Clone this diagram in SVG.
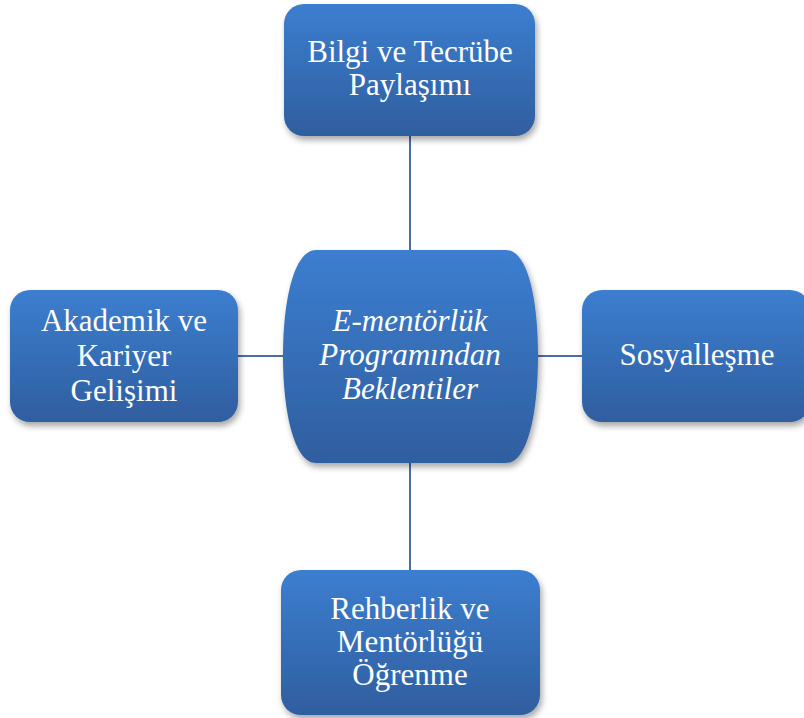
<svg xmlns="http://www.w3.org/2000/svg" width="804" height="718" viewBox="0 0 804 718">
<defs>
<linearGradient id="g" x1="0" y1="0" x2="0" y2="1">
<stop offset="0" stop-color="#3c7ed0"/>
<stop offset="1" stop-color="#2f5e9f"/>
</linearGradient>
<filter id="sh" x="-10%" y="-10%" width="125%" height="130%">
<feDropShadow dx="2" dy="4" stdDeviation="3" flood-color="#000" flood-opacity="0.35"/>
</filter>
<style>
.box{fill:url(#g);filter:url(#sh);}
.t{font-family:"Liberation Serif","Times New Roman",serif;font-size:31px;fill:#fff;text-anchor:middle;}
.i{font-style:italic;}
.c{stroke:#4a6ea6;stroke-width:2;fill:none;}
</style>
</defs>
<rect width="804" height="718" fill="#fff"/>
<g id="connectors">
<line class="c" x1="410" y1="136" x2="410" y2="251"/>
<line class="c" x1="410" y1="462" x2="410" y2="571"/>
<line class="c" x1="238" y1="356" x2="284" y2="356"/>
<line class="c" x1="537" y1="356" x2="583" y2="356"/>
</g>
<g id="top">
<rect class="box" x="284" y="4" width="251" height="132" rx="20"/>
<text class="t" x="410" y="62">Bilgi ve Tecrübe</text>
<text class="t" x="410" y="95">Paylaşımı</text>
</g>
<g id="center">
<path class="box" d="M316 250 H506 C528 250 538 300 538 356 C538 412 528 463 506 463 H316 C294 463 283 412 283 356 C283 300 294 250 316 250 Z"/>
<text class="t i" x="410" y="331">E-mentörlük</text>
<text class="t i" x="410" y="365">Programından</text>
<text class="t i" x="410" y="399">Beklentiler</text>
</g>
<g id="left">
<rect class="box" x="10" y="290" width="228" height="132" rx="20"/>
<text class="t" x="124" y="331">Akademik ve</text>
<text class="t" x="124" y="366">Kariyer</text>
<text class="t" x="124" y="401">Gelişimi</text>
</g>
<g id="right">
<rect class="box" x="582" y="290" width="228" height="132" rx="20"/>
<text class="t" x="697" y="365">Sosyalleşme</text>
</g>
<g id="bottom">
<rect class="box" x="281" y="570" width="259" height="145" rx="20"/>
<text class="t" x="410" y="619">Rehberlik ve</text>
<text class="t" x="410" y="652">Mentörlüğü</text>
<text class="t" x="410" y="685">Öğrenme</text>
</g>
</svg>
